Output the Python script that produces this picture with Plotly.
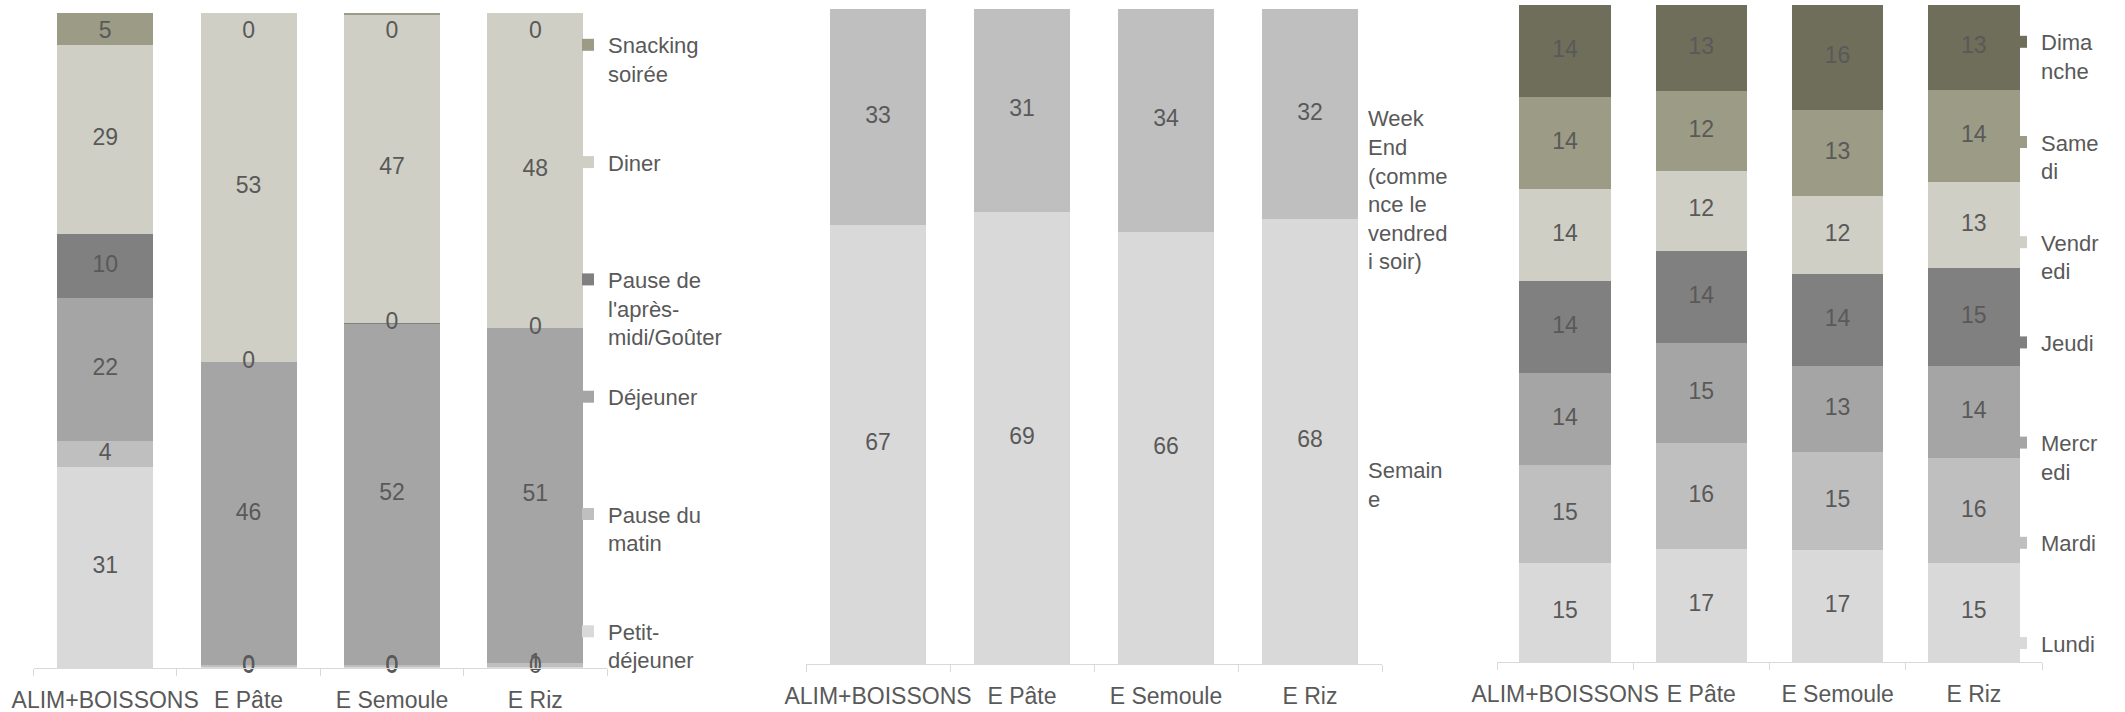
import plotly.graph_objects as go

W, H = 2125, 712

categories = ["ALIM+BOISSONS", "E Pâte", "E Semoule", "E Riz"]

# Chart 1 : moment de consommation (bottom -> top)
petit_dejeuner = [31, 0.2, 0.2, 0.2]
pause_matin = [4, 0.2, 0.2, 0.6]
dejeuner = [22, 46, 52, 51]
pause_apres_midi = [10, 0, 0.15, 0]
diner = [29, 53, 47, 48]
snacking_soiree = [5, 0, 0.2, 0]
moment_names = ["Petit-<br>déjeuner", "Pause du<br>matin", "Déjeuner",
                "Pause de<br>l'après-<br>midi/Goûter", "Diner", "Snacking<br>soirée"]
moment_colors = ["#d9d9d9", "#bfbfbf", "#a5a5a5", "#808080", "#cfcfc5", "#9b9b86"]

# Chart 2 : semaine / week-end
semaine = [67, 69, 66, 68]
week_end = [33, 31, 34, 32]
periode_names = ["Semain<br>e", "Week<br>End<br>(comme<br>nce le<br>vendred<br>i soir)"]
periode_colors = ["#d9d9d9", "#bfbfbf"]

# Chart 3 : jour de la semaine
lundi = [15, 17, 17, 15]
mardi = [15, 16, 15, 16]
mercredi = [14, 15, 13, 14]
jeudi = [14, 14, 14, 15]
vendredi = [14, 12, 12, 13]
samedi = [14, 12, 13, 14]
dimanche = [14, 13, 16, 13]
jour_names = ["Lundi", "Mardi", "Mercr<br>edi", "Jeudi", "Vendr<br>edi", "Same<br>di", "Dima<br>nche"]
jour_colors = ["#d9d9d9", "#bfbfbf", "#a5a5a5", "#808080", "#cfcfc5", "#9b9b86", "#6e6e5a"]

FONT = "Liberation Sans, Arial, sans-serif"
TXT = "#595959"

fig = go.Figure()


def pad(name, n):
    k = name.count("<br>") + 1
    return name + "<br>&nbsp;" * max(0, n - k)


def add_chart(series, names, colors, idx, legend_id, nlines):
    xa = "x" if idx == 1 else f"x{idx}"
    ya = "y" if idx == 1 else f"y{idx}"
    totals = [sum(s[i] for s in series) for i in range(len(categories))]
    base = [0.0] * len(categories)
    n = len(series)
    for j, (s, nm, col) in enumerate(zip(series, names, colors)):
        pct = [v / t * 100 for v, t in zip(s, totals)]
        label = nm if j == 0 else pad(nm, nlines)
        fig.add_trace(go.Bar(
            x=categories, y=pct, name=label, marker=dict(color=col, line=dict(width=0)),
            xaxis=xa, yaxis=ya, legend=legend_id, legendgroup=f"{legend_id}_{j}",
            legendrank=100 + n - j, hoverinfo="skip"))
        mids = [min(b + p / 2, 97) for b, p in zip(base, pct)]
        fig.add_trace(go.Scatter(
            x=categories, y=mids, text=[f"{v:.0f}" for v in s], mode="text",
            textfont=dict(size=23, color=TXT, family=FONT), showlegend=False,
            xaxis=xa, yaxis=ya, hoverinfo="skip", cliponaxis=False))
        base = [b + p for b, p in zip(base, pct)]


add_chart([petit_dejeuner, pause_matin, dejeuner, pause_apres_midi, diner, snacking_soiree],
          moment_names, moment_colors, 1, "legend", 3)
add_chart([semaine, week_end], periode_names, periode_colors, 2, "legend2", 6)
add_chart([lundi, mardi, mercredi, jeudi, vendredi, samedi, dimanche],
          jour_names, jour_colors, 3, "legend3", 2)

plots = {1: (33.5, 607, 13, 668), 2: (806, 1382, 9, 664), 3: (1497, 2042, 5, 662)}
layout = dict(width=W, height=H, margin=dict(l=0, r=0, t=0, b=0, autoexpand=False),
              paper_bgcolor="white", plot_bgcolor="white", barmode="stack", bargap=0.33,
              font=dict(family=FONT, color=TXT), showlegend=True, hovermode=False)
for i, (x0, x1, y0, y1) in plots.items():
    sfx = "" if i == 1 else str(i)
    layout[f"xaxis{sfx}"] = dict(
        domain=[x0 / W, x1 / W], anchor=f"y{sfx}", type="category", range=[-0.5, 3.5],
        showline=True, linecolor="#d9d9d9", linewidth=1, ticks="outside", tickson="boundaries",
        ticklen=7, tickcolor="#d9d9d9", tickfont=dict(size=23, color=TXT, family=FONT),
        tickangle=0, showgrid=False, zeroline=False, ticklabelstandoff=11, automargin=False)
    layout[f"yaxis{sfx}"] = dict(domain=[1 - y1 / H, 1 - y0 / H], anchor=f"x{sfx}",
                                 range=[0, 100], visible=False)


def leg(x_text, y_top, gap):
    return dict(x=(x_text - 41) / W, y=1 - y_top / H, xanchor="left", yanchor="top",
                traceorder="grouped", tracegroupgap=gap, valign="top",
                font=dict(size=22, color=TXT, family=FONT), bgcolor="rgba(0,0,0,0)",
                itemwidth=30, itemclick=False)


layout["legend"] = leg(609, 24, 28.5)
layout["legend2"] = leg(1369, 97, 177)
layout["legend3"] = leg(2042, 21, 40)

fig.update_layout(**layout)
fig.write_html("out.html", config={"displayModeBar": False},
               post_script="document.body.style.margin='0';document.body.style.overflow='hidden';")
